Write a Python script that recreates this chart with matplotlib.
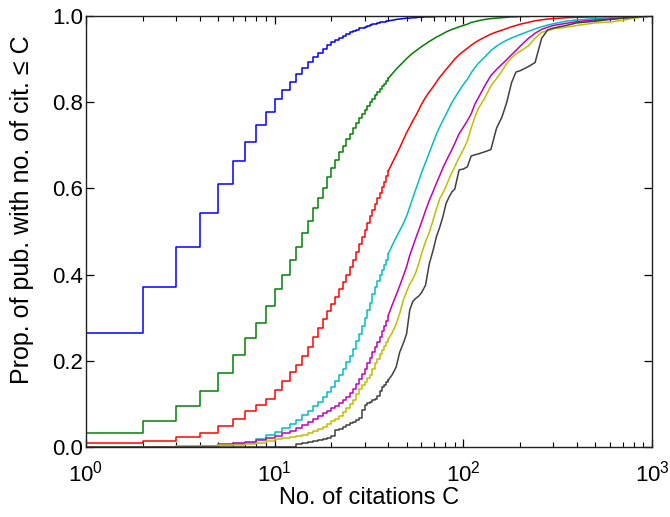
import matplotlib
matplotlib.use("Agg")
import matplotlib.pyplot as plt
from matplotlib.ticker import FormatStrFormatter, LogLocator

plt.rcParams['font.family'] = ['Liberation Sans', 'DejaVu Sans']
plt.rcParams['mathtext.fontset'] = 'custom'
plt.rcParams['mathtext.rm'] = 'Liberation Sans'

# number of citations C (grid at which the cumulative proportions are read)
citations = [1, 2, 3, 4, 5, 6, 7, 8, 9, 10, 11, 12, 13, 14, 15, 16, 17, 18, 19, 20,
             21, 22, 23, 24, 25, 26, 27, 28, 29, 30, 31, 32, 33, 34, 35, 36, 37, 38, 39, 40,
             42, 44, 46, 48, 50, 52, 54, 56, 58, 60,
             63, 66, 69, 72, 75, 78, 81, 84, 87, 90, 95, 100, 105, 110, 115, 120,
             130, 140, 150, 160, 170, 180, 190, 200, 220, 240, 260, 280, 300,
             350, 400, 500, 600, 700, 800, 1000]

blue = [0.265, 0.371, 0.465, 0.544, 0.610, 0.664, 0.707, 0.746, 0.778, 0.807, 0.828, 0.848, 0.865, 0.880, 0.893, 0.905, 0.915, 0.924, 0.932, 0.939,
        0.945, 0.950, 0.954, 0.958, 0.962, 0.965, 0.968, 0.971, 0.973, 0.975, 0.977, 0.979, 0.981, 0.982, 0.984, 0.985, 0.986, 0.987, 0.988, 0.989,
        0.990, 0.992, 0.993, 0.994, 0.995, 0.995, 0.996, 0.996, 0.997, 0.997,
        0.998, 0.998, 0.998, 0.999, 0.999, 0.999, 0.999, 0.999, 1.0, 1.0, 1.0, 1.0, 1.0, 1.0, 1.0, 1.0,
        1.0, 1.0, 1.0, 1.0, 1.0, 1.0, 1.0, 1.0, 1.0, 1.0, 1.0, 1.0, 1.0,
        1.0, 1.0, 1.0, 1.0, 1.0, 1.0, 1.0]

green = [0.032, 0.061, 0.095, 0.131, 0.172, 0.213, 0.254, 0.288, 0.328, 0.366, 0.399, 0.434, 0.465, 0.497, 0.525, 0.554, 0.578, 0.602, 0.626, 0.648,
         0.667, 0.684, 0.699, 0.714, 0.727, 0.740, 0.752, 0.763, 0.773, 0.782, 0.791, 0.800, 0.808, 0.816, 0.823, 0.830, 0.837, 0.843, 0.849, 0.855,
         0.866, 0.876, 0.885, 0.893, 0.901, 0.908, 0.914, 0.919, 0.924, 0.929,
         0.935, 0.941, 0.946, 0.951, 0.955, 0.959, 0.963, 0.966, 0.969, 0.971, 0.975, 0.978, 0.981, 0.985, 0.987, 0.989,
         0.992, 0.994, 0.995, 0.996, 0.997, 0.998, 0.998, 0.999, 0.999, 1.0, 1.0, 1.0, 1.0,
         1.0, 1.0, 1.0, 1.0, 1.0, 1.0, 1.0]

red = [0.0085, 0.015, 0.0225, 0.033, 0.049, 0.066, 0.083, 0.097, 0.112, 0.133, 0.153, 0.173, 0.190, 0.210, 0.233, 0.256, 0.277, 0.298, 0.316, 0.332,
       0.349, 0.366, 0.383, 0.400, 0.418, 0.435, 0.452, 0.470, 0.487, 0.503, 0.519, 0.535, 0.549, 0.563, 0.577, 0.590, 0.603, 0.615, 0.628, 0.640,
       0.659, 0.677, 0.694, 0.712, 0.729, 0.743, 0.757, 0.769, 0.782, 0.795,
       0.811, 0.824, 0.835, 0.847, 0.858, 0.867, 0.876, 0.884, 0.892, 0.900, 0.910, 0.918, 0.925, 0.932, 0.938, 0.943,
       0.951, 0.958, 0.963, 0.967, 0.971, 0.975, 0.978, 0.981, 0.985, 0.989, 0.991, 0.993, 0.994,
       0.996, 0.997, 0.998, 0.999, 1.0, 1.0, 1.0]

cyan = [0.0, 0.001, 0.002, 0.003, 0.004, 0.006, 0.010, 0.018, 0.027, 0.035, 0.043, 0.053, 0.063, 0.074, 0.084, 0.094, 0.105, 0.116, 0.128, 0.140,
        0.154, 0.168, 0.182, 0.197, 0.212, 0.228, 0.245, 0.262, 0.281, 0.300, 0.318, 0.335, 0.354, 0.372, 0.385, 0.398, 0.410, 0.422, 0.435, 0.448,
        0.468, 0.486, 0.502, 0.518, 0.535, 0.557, 0.578, 0.598, 0.617, 0.636,
        0.660, 0.683, 0.705, 0.726, 0.743, 0.758, 0.772, 0.786, 0.799, 0.810, 0.826, 0.841, 0.853, 0.868, 0.880, 0.890,
        0.905, 0.920, 0.930, 0.938, 0.944, 0.949, 0.953, 0.957, 0.964, 0.970, 0.975, 0.979, 0.982,
        0.988, 0.991, 0.994, 0.996, 0.998, 0.999, 1.0]

magenta = [0.0, 0.0, 0.001, 0.003, 0.006, 0.009, 0.012, 0.016, 0.020, 0.026, 0.032, 0.038, 0.044, 0.051, 0.058, 0.065, 0.072, 0.078, 0.084, 0.090,
           0.096, 0.102, 0.109, 0.116, 0.125, 0.135, 0.146, 0.158, 0.170, 0.182, 0.195, 0.207, 0.220, 0.232, 0.244, 0.256, 0.269, 0.281, 0.293, 0.305,
           0.330, 0.352, 0.374, 0.396, 0.418, 0.445, 0.465, 0.485, 0.503, 0.521,
           0.548, 0.572, 0.592, 0.612, 0.630, 0.648, 0.663, 0.677, 0.690, 0.704, 0.727, 0.742, 0.757, 0.773, 0.795, 0.810,
           0.838, 0.862, 0.876, 0.888, 0.899, 0.910, 0.920, 0.930, 0.947, 0.960, 0.969, 0.974, 0.978,
           0.983, 0.987, 0.991, 0.993, 0.995, 0.997, 1.0]

yellow = [0.0, 0.001, 0.002, 0.003, 0.004, 0.005, 0.007, 0.010, 0.015, 0.018, 0.020, 0.023, 0.026, 0.029, 0.033, 0.037, 0.041, 0.046, 0.053, 0.060,
          0.066, 0.073, 0.081, 0.090, 0.100, 0.110, 0.122, 0.135, 0.143, 0.150, 0.159, 0.168, 0.182, 0.195, 0.205, 0.215, 0.225, 0.235, 0.243, 0.250,
          0.265, 0.285, 0.310, 0.340, 0.360, 0.378, 0.390, 0.405, 0.425, 0.448,
          0.476, 0.498, 0.525, 0.552, 0.576, 0.590, 0.605, 0.622, 0.637, 0.650, 0.672, 0.690, 0.710, 0.740, 0.765, 0.785,
          0.810, 0.838, 0.855, 0.872, 0.890, 0.903, 0.912, 0.918, 0.930, 0.948, 0.962, 0.966, 0.970,
          0.974, 0.978, 0.984, 0.986, 0.990, 0.995, 1.0]

black = [0.0, 0.0, 0.0, 0.0, 0.0, 0.0, 0.0, 0.0, 0.0, 0.0, 0.0, 0.0, 0.008, 0.010, 0.012, 0.015, 0.017, 0.019, 0.022, 0.026,
         0.039, 0.042, 0.046, 0.050, 0.055, 0.058, 0.063, 0.068, 0.086, 0.098, 0.101, 0.105, 0.108, 0.112, 0.118, 0.130, 0.140, 0.145, 0.150, 0.155,
         0.168, 0.185, 0.220, 0.240, 0.262, 0.318, 0.338, 0.345, 0.350, 0.358,
         0.375, 0.425, 0.455, 0.488, 0.510, 0.535, 0.565, 0.580, 0.592, 0.598, 0.643, 0.645, 0.650, 0.675, 0.678, 0.680,
         0.685, 0.690, 0.740, 0.765, 0.800, 0.845, 0.870, 0.873, 0.882, 0.892, 0.948, 0.968, 0.972,
         0.978, 0.984, 0.988, 0.992, 0.995, 0.997, 1.0]

series = [
    (blue, (0, 0, 1)),
    (green, (0, 0.5, 0)),
    (red, (1, 0, 0)),
    (cyan, (0, 0.75, 0.75)),
    (magenta, (0.75, 0, 0.75)),
    (yellow, (0.75, 0.75, 0)),
    (black, (0.25, 0.25, 0.25)),
]

fig = plt.figure(figsize=(6.70, 5.17), dpi=100)
ax = fig.add_axes([86 / 670, 70 / 517, 566 / 670, 431 / 517])

n_step = 40  # integer-resolved part drawn as stairs; sparser tail drawn as a line
for vals, col in series:
    ax.step(citations[:n_step], vals[:n_step], where='post', color=col, linewidth=1.1)
    ax.plot(citations[n_step - 1:], vals[n_step - 1:], color=col, linewidth=1.1)

ax.set_xscale('log')
ax.set_xlim(1, 1000)
ax.set_ylim(0, 1)
ax.set_yticks([0, 0.2, 0.4, 0.6, 0.8, 1.0])
ax.yaxis.set_major_formatter(FormatStrFormatter('%.1f'))
ax.xaxis.set_minor_locator(LogLocator(base=10, subs=range(2, 10)))

ax.tick_params(which='both', direction='in', top=True, right=True, labelsize=16, colors='black')
ax.tick_params(which='major', length=6, width=0.9)
ax.tick_params(which='minor', length=3.5, width=0.8)
ax.tick_params(axis='x', which='major', pad=10)
ax.tick_params(axis='y', which='major', pad=2)
for s in ax.spines.values():
    s.set_linewidth(1.0)
    s.set_color('#222222')

ax.set_xlabel('No. of citations C', fontsize=17, labelpad=0)
ax.set_ylabel('Prop. of pub. with no. of cit. \u2264 C', fontsize=18)
ax.yaxis.set_label_coords(-0.092, 0.55)

fig.savefig('out.png', dpi=100)
